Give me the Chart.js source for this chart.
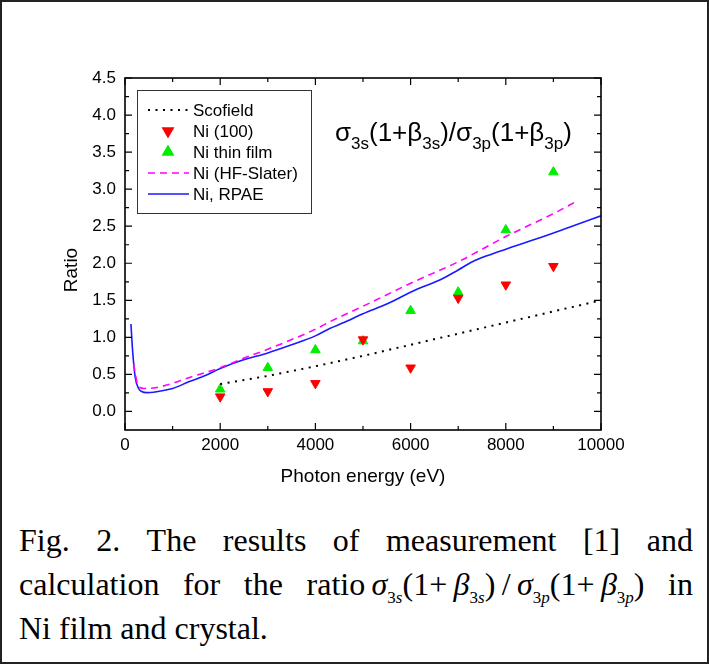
<!DOCTYPE html>
<html>
<head>
<meta charset="utf-8">
<title>Ratio vs photon energy</title>
<script src="https://cdn.jsdelivr.net/npm/chart.js@4.4.1/dist/chart.umd.min.js"></script>
<style>
  html, body { margin: 0; padding: 0; background: #fff; }
  #page { position: relative; width: 709px; height: 664px; overflow: hidden; background: #fff; }
  #frame { position: absolute; left: 0; top: 0; width: 709px; height: 664px; border: 2px solid #222; box-sizing: border-box; pointer-events: none; }
  #chart { position: absolute; left: 0; top: 0; }
  .cap { position: absolute; left: 19px; width: 674px; height: 32px; font-family: "Liberation Serif", "Times New Roman", serif; font-size: 32px; line-height: 32px; color: #000; white-space: nowrap; }
  .just { display: flex; justify-content: space-between; align-items: baseline; }
  .m { font-style: italic; }
  .s { font-size: 17px; position: relative; top: 8px; }
  .s i { font-style: italic; }
</style>
</head>
<body>
<div id="page">
  <canvas id="chart" width="709" height="500"></canvas>
  <div class="cap just" style="top:524px">
    <span>Fig.</span><span>2.</span><span>The</span><span>results</span><span>of</span><span>measurement</span><span>[1]</span><span>and</span>
  </div>
  <div class="cap just" style="top:568px">
    <span>calculation</span><span>for</span><span>the</span>
    <span>ratio&thinsp;<span class="m">σ</span><span class="s">3<i>s</i></span>(1+&thinsp;<span class="m">β</span><span class="s">3<i>s</i></span>)&thinsp;/&thinsp;<span class="m">σ</span><span class="s">3<i>p</i></span>(1+&thinsp;<span class="m">β</span><span class="s">3<i>p</i></span>)</span>
    <span>in</span>
  </div>
  <div class="cap" style="top:612px">Ni film and crystal.</div>
  <div id="frame"></div>
</div>
<script>
// tick labels
const energyTicks = [0, 2000, 4000, 6000, 8000, 10000];
const energyMinor = [1000, 3000, 5000, 7000, 9000];
const ratioTicks = [0, 0.5, 1, 1.5, 2, 2.5, 3, 3.5, 4, 4.5];
const ratioMinor = [0.25, 0.75, 1.25, 1.75, 2.25, 2.75, 3.25, 3.75, 4.25];

// Scofield (dotted)
const scofieldE = [2000, 3000, 4000, 5000, 6000, 7000, 8000, 9000, 10000];
const scofieldR = [0.37, 0.48, 0.61, 0.75, 0.90, 1.05, 1.20, 1.35, 1.50];

// measurements
const measE = [2000, 3000, 4000, 5000, 6000, 7000, 8000, 9000];
const ni100R = [0.20, 0.27, 0.38, 0.97, 0.59, 1.53, 1.71, 1.96];
const niFilmR = [0.30, 0.59, 0.83, 0.95, 1.36, 1.61, 2.45, 3.23];

// Ni (HF-Slater), dashed
const hfE = [180, 250, 300, 400, 640, 1000, 1340, 2000, 2460, 3000, 4000, 4300, 5000, 6000, 7000, 8000, 9000, 9500];
const hfR = [0.64, 0.40, 0.33, 0.31, 0.32, 0.38, 0.455, 0.59, 0.71, 0.84, 1.11, 1.21, 1.42, 1.73, 2.02, 2.36, 2.67, 2.84];

// Ni, RPAE
const rpaeE = [125, 160, 215, 285, 350, 460, 600, 780, 1000, 1340, 1700, 2000, 2460, 3000, 3500, 4000, 4300, 4600, 5000, 5500, 6100, 6600, 7000, 7300, 7600, 8000, 8650, 9350, 10000];
const rpaeR = [1.18, 0.82, 0.46, 0.31, 0.27, 0.255, 0.26, 0.28, 0.31, 0.40, 0.49, 0.58, 0.69, 0.79, 0.90, 1.02, 1.12, 1.20, 1.32, 1.45, 1.64, 1.77, 1.91, 2.02, 2.10, 2.19, 2.33, 2.49, 2.64];

const SANS = '"Liberation Sans", Arial, Helvetica, sans-serif';
const pts = (xs, ys) => xs.map((x, i) => ({ x: x, y: ys[i] }));

// frame, inward ticks, y title and formula
const framePlugin = {
  id: 'frame',
  afterDraw(chart) {
    const { ctx, chartArea: a, scales: { x, y } } = chart;
    ctx.save();
    ctx.strokeStyle = '#000';
    ctx.lineWidth = 1.2;
    const xt = (v, len) => {
      const px = x.getPixelForValue(v);
      ctx.beginPath();
      ctx.moveTo(px, a.bottom); ctx.lineTo(px, a.bottom - len);
      ctx.moveTo(px, a.top); ctx.lineTo(px, a.top + len);
      ctx.stroke();
    };
    const yt = (v, len) => {
      const py = y.getPixelForValue(v);
      ctx.beginPath();
      ctx.moveTo(a.left, py); ctx.lineTo(a.left + len, py);
      ctx.moveTo(a.right, py); ctx.lineTo(a.right - len, py);
      ctx.stroke();
    };
    energyTicks.forEach(v => xt(v, 7));
    energyMinor.forEach(v => xt(v, 4));
    ratioTicks.forEach(v => yt(v, 7));
    ratioMinor.forEach(v => yt(v, 4));
    ctx.lineWidth = 1.6;
    ctx.strokeRect(a.left, a.top, a.right - a.left, a.bottom - a.top);

    // y axis title
    ctx.fillStyle = '#000';
    ctx.font = '19px ' + SANS;
    ctx.textAlign = 'center';
    ctx.textBaseline = 'middle';
    ctx.translate(72, 270);
    ctx.rotate(-Math.PI / 2);
    ctx.fillText('Ratio', 0, 0);
    ctx.restore();

    // formula
    ctx.save();
    ctx.fillStyle = '#000';
    ctx.textBaseline = 'alphabetic';
    ctx.textAlign = 'left';
    const parts = [['σ', 0], ['3s', 1], ['(1+β', 0], ['3s', 1], [')/σ', 0], ['3p', 1], ['(1+β', 0], ['3p', 1], [')', 0]];
    let cx = 335;
    const base = 141;
    parts.forEach(([t, sub]) => {
      ctx.font = (sub ? '17px ' : '26px ') + SANS;
      ctx.fillText(t, cx, sub ? base + 8 : base);
      cx += ctx.measureText(t).width;
    });
    ctx.restore();
  }
};

// boxed legend inside the plot
const boxLegend = {
  id: 'boxLegend',
  afterDraw(chart) {
    const ctx = chart.ctx;
    const bx = 137, by = 90, bw = 174, bh = 123;
    ctx.save();
    ctx.fillStyle = '#fff';
    ctx.fillRect(bx, by, bw, bh);
    ctx.strokeStyle = '#333';
    ctx.lineWidth = 1;
    ctx.strokeRect(bx + 0.5, by + 0.5, bw, bh);
    ctx.font = '17px ' + SANS;
    ctx.textBaseline = 'middle';
    ctx.textAlign = 'left';
    chart.data.datasets.forEach((ds, i) => {
      const cy = 110 + i * 21;
      if (ds.showLine) {
        ctx.strokeStyle = ds.borderColor;
        ctx.lineWidth = ds.borderWidth;
        ctx.setLineDash(ds.borderDash || []);
        ctx.beginPath();
        ctx.moveTo(148, cy);
        ctx.lineTo(189, cy);
        ctx.stroke();
        ctx.setLineDash([]);
      } else {
        ctx.fillStyle = ds.backgroundColor;
        ctx.strokeStyle = ds.borderColor;
        Chart.helpers.drawPoint(ctx, { pointStyle: 'triangle', radius: ds.pointRadius, rotation: ds.pointRotation || 0, borderWidth: 1 }, 168, cy);
      }
      ctx.fillStyle = '#000';
      ctx.fillText(ds.label, 193, cy + 1);
    });
    ctx.restore();
  }
};

new Chart(document.getElementById('chart'), {
  type: 'scatter',
  data: {
    datasets: [
      {
        label: 'Scofield',
        data: pts(scofieldE, scofieldR),
        showLine: true,
        borderColor: '#000',
        borderWidth: 2,
        borderDash: [2, 5.5],
        pointRadius: 0
      },
      {
        label: 'Ni (100)',
        data: pts(measE, ni100R),
        showLine: false,
        pointStyle: 'triangle',
        pointRotation: 180,
        pointRadius: 5.5,
        backgroundColor: '#ff0000',
        borderColor: '#ff0000',
        borderWidth: 1
      },
      {
        label: 'Ni thin film',
        data: pts(measE, niFilmR),
        showLine: false,
        pointStyle: 'triangle',
        pointRadius: 5.5,
        backgroundColor: '#00ee00',
        borderColor: '#00ee00',
        borderWidth: 1
      },
      {
        label: 'Ni (HF-Slater)',
        data: pts(hfE, hfR),
        showLine: true,
        borderColor: '#ff00ff',
        borderWidth: 1.6,
        borderDash: [7, 5],
        pointRadius: 0,
        cubicInterpolationMode: 'monotone'
      },
      {
        label: 'Ni, RPAE',
        data: pts(rpaeE, rpaeR),
        showLine: true,
        borderColor: '#1a1aff',
        borderWidth: 1.6,
        pointRadius: 0,
        cubicInterpolationMode: 'monotone'
      }
    ]
  },
  options: {
    responsive: false,
    animation: false,
    layout: { padding: { left: 62, right: 108, top: 78, bottom: 12 } },
    plugins: {
      legend: { display: false },
      tooltip: { enabled: false }
    },
    scales: {
      x: {
        type: 'linear',
        min: 0,
        max: 10000,
        afterBuildTicks: s => { s.ticks = energyTicks.map(v => ({ value: v })); },
        afterFit: s => { s.height = 58; },
        grid: { display: false, drawTicks: false },
        border: { display: false },
        ticks: { color: '#000', padding: 5, maxRotation: 0, font: { family: SANS, size: 17 }, callback: v => String(v) },
        title: { display: true, text: 'Photon energy (eV)', color: '#000', padding: 0, font: { family: SANS, size: 19 } }
      },
      y: {
        type: 'linear',
        min: -0.25,
        max: 4.5,
        afterBuildTicks: s => { s.ticks = ratioTicks.map(v => ({ value: v })); },
        afterFit: s => { s.width = 63; },
        grid: { display: false, drawTicks: false },
        border: { display: false },
        ticks: { color: '#000', padding: 9, font: { family: SANS, size: 17 }, callback: v => v.toFixed(1) }
      }
    }
  },
  plugins: [framePlugin, boxLegend]
});
</script>
</body>
</html>
